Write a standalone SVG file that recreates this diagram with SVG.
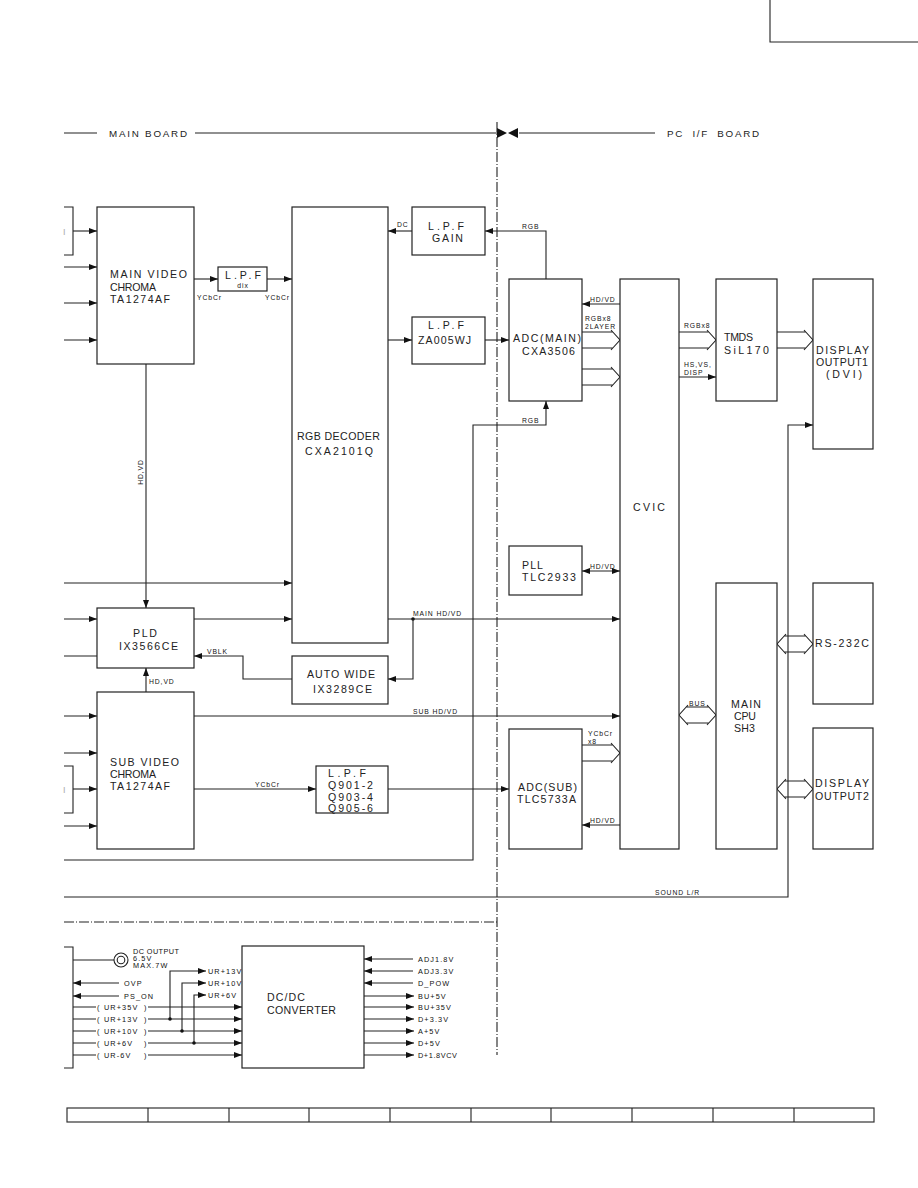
<svg xmlns="http://www.w3.org/2000/svg" width="918" height="1188" viewBox="0 0 918 1188">
<defs>
<marker id="a" markerUnits="userSpaceOnUse" markerWidth="8" markerHeight="6" refX="8" refY="3" orient="auto"><path d="M0,0 L8,3 L0,6 z" fill="#111"/></marker>
<marker id="b" markerUnits="userSpaceOnUse" markerWidth="8" markerHeight="6" refX="8" refY="3" orient="auto-start-reverse"><path d="M0,0 L8,3 L0,6 z" fill="#111"/></marker>
<style>
.bx{fill:#fff;stroke:#222;stroke-width:1.2}
.ln{fill:none;stroke:#222;stroke-width:1.1}
.ar{fill:none;stroke:#222;stroke-width:1.1;marker-end:url(#a)}
.da{fill:none;stroke:#222;stroke-width:1.1;marker-start:url(#b);marker-end:url(#b)}
.dash{fill:none;stroke:#222;stroke-width:1.1;stroke-dasharray:10 2 1 2}
.t{font-family:"Liberation Sans",Arial,sans-serif;font-size:10.6px;fill:#222}
.m{font-family:"Liberation Sans",Arial,sans-serif;font-size:9.8px;fill:#222}
.s{font-family:"Liberation Sans",Arial,sans-serif;font-size:6.8px;letter-spacing:0.9px;fill:#111}
.p{font-family:"Liberation Sans",Arial,sans-serif;font-size:7.3px;letter-spacing:1.1px;fill:#111}
.c{text-anchor:middle}
</style>
</defs>
<rect width="918" height="1188" fill="#fff"/>

<g id="frame">
<path class="ln" d="M770,0 V42 H918"/>
<path class="ln" d="M64,133 H97 M195,133 H497 M519,133 H655"/>
<path d="M497,128 L507,133 L497,138 z M518,128 L508,133 L518,138 z" fill="#111"/>
<text class="m" x="109" y="137" textLength="78" lengthAdjust="spacing">MAIN BOARD</text>
<text class="m" x="667" y="137" textLength="92" lengthAdjust="spacing" word-spacing="4">PC I/F BOARD</text>
<path class="dash" d="M497,122 V1055"/>
<path class="dash" d="M64,922 H497"/>
</g>

<g id="table">
<rect x="67" y="1108" width="807" height="14" fill="none" stroke="#333" stroke-width="1.2"/>
<path class="ln" d="M148,1108 V1122 M229,1108 V1122 M309,1108 V1122 M390,1108 V1122 M471,1108 V1122 M551,1108 V1122 M632,1108 V1122 M713,1108 V1122 M794,1108 V1122"/>
</g>

<g id="connectors">
<path class="ln" d="M64,207 H73 V255 H64"/>
<text x="63" y="235" font-family="Liberation Sans,Arial,sans-serif" font-size="9" fill="#aaa">I</text>
<path class="ar" d="M73,231 H97"/>
<path class="ar" d="M64,267 H97"/>
<path class="ar" d="M64,303 H97"/>
<path class="ar" d="M64,340 H97"/>
<path class="ar" d="M194,279 H218"/>
<path class="ar" d="M267,279 H292"/>
<path class="ar" d="M146,364 V608"/>
<path class="ar" d="M412,231 H388"/>
<path class="ar" d="M546,279 V231 H485"/>
<path class="ar" d="M388,340 H412"/>
<path class="ar" d="M485,340 H509"/>
<path class="ar" d="M64,860 H473 V425 H546 V401"/>
<path class="ar" d="M620,304 H582"/>
<path class="ln" d="M582,332 H613 M611,330 L620,340 L611,350 M582,348 H613"/>
<path class="ln" d="M582,369 H613 M611,367 L620,377 L611,387 M582,385 H613"/>
<path class="ln" d="M679,332 H709 M707,330 L716,340 L707,350 M679,348 H709"/>
<path class="ar" d="M679,377 H716"/>
<path class="ln" d="M777,332 H806 M804,330 L813,340 L804,350 M777,348 H806"/>
<path class="ar" d="M64,897 H788 V425 H813"/>
<path class="da" d="M582,571 H620"/>
<path class="ar" d="M64,583 H292"/>
<path class="ar" d="M64,619 H97"/>
<path class="ar" d="M194,619 H292"/>
<path class="ln" d="M64,656 H97"/>
<path class="ar" d="M388,619 H620"/>
<circle cx="413" cy="619" r="1.8" fill="#111"/>
<path class="ar" d="M413,619 V679 H388"/>
<path class="ar" d="M292,679 H243 V656 H194"/>
<path class="ar" d="M146,692 V668"/>
<path class="ar" d="M64,716 H97"/>
<path class="ar" d="M194,716 H620"/>
<path class="ar" d="M64,753 H97"/>
<path class="ln" d="M64,766 H73 V813 H64"/>
<text x="63" y="793" font-family="Liberation Sans,Arial,sans-serif" font-size="9" fill="#aaa">I</text>
<path class="ar" d="M73,789 H97"/>
<path class="ar" d="M64,826 H97"/>
<path class="ar" d="M194,789 H316"/>
<path class="ar" d="M388,789 H509"/>
<path class="ln" d="M582,745 H613 M611,743 L620,753 L611,763 M582,761 H613"/>
<path class="ar" d="M620,825 H582"/>
<path class="ln" d="M686,707 H709 M688,705 L679,715 L688,725 M707,705 L716,715 L707,725 M686,723 H709"/>
<path class="ln" d="M784,636 H806 M786,634 L777,644 L786,654 M804,634 L813,644 L804,654 M784,652 H806"/>
<path class="ln" d="M784,781 H806 M786,779 L777,789 L786,799 M804,779 L813,789 L804,799 M784,797 H806"/>

<text class="s" x="197" y="300">YCbCr</text>
<text class="s" x="265" y="300">YCbCr</text>
<text class="s" x="397" y="227">DC</text>
<text class="s" x="522" y="229">RGB</text>
<text class="s" x="522" y="423">RGB</text>
<text class="s" x="590" y="302">HD/VD</text>
<text class="s" x="585" y="321">RGBx8</text>
<text class="s" x="585" y="329">2LAYER</text>
<text class="s" x="684" y="328">RGBx8</text>
<text class="s" x="684" y="367">HS,VS,</text>
<text class="s" x="684" y="375">DISP</text>
<text class="s" x="590" y="569">HD/VD</text>
<text class="s" x="413" y="616">MAIN HD/VD</text>
<text class="s" x="413" y="714">SUB HD/VD</text>
<text class="s" x="207" y="654">VBLK</text>
<text class="s" x="149" y="684">HD,VD</text>
<text class="s" x="255" y="787">YCbCr</text>
<text class="s" x="588" y="736">YCbCr</text>
<text class="s" x="588" y="744">x8</text>
<text class="s" x="590" y="823">HD/VD</text>
<text class="s" x="689" y="706">BUS</text>
<text class="s" x="655" y="895">SOUND L/R</text>
<text class="s" transform="translate(143,472) rotate(-90)" text-anchor="middle">HD,VD</text>
</g>

<g id="main-video">
<rect class="bx" x="97" y="207" width="97" height="157"/>
<text class="t" x="110" y="278" textLength="77" lengthAdjust="spacing">MAIN VIDEO</text>
<text class="t" x="110" y="291" textLength="46" lengthAdjust="spacing">CHROMA</text>
<text class="t" x="110" y="303" textLength="60" lengthAdjust="spacing">TA1274AF</text>
</g>
<g id="lpf-dix">
<rect class="bx" x="218" y="267" width="49" height="24"/>
<text class="t" x="225" y="279" textLength="36" lengthAdjust="spacing">L.P.F</text>
<text class="s c" x="243" y="288">dix</text>
</g>
<g id="rgb-decoder">
<rect class="bx" x="292" y="207" width="96" height="436"/>
<text class="t" x="297" y="440" textLength="83" lengthAdjust="spacing">RGB DECODER</text>
<text class="t" x="305" y="455" textLength="68" lengthAdjust="spacing">CXA2101Q</text>
</g>
<g id="lpf-gain">
<rect class="bx" x="412" y="207" width="73" height="48"/>
<text class="t" x="428" y="230" textLength="36" lengthAdjust="spacing">L.P.F</text>
<text class="t" x="432" y="242" textLength="31" lengthAdjust="spacing">GAIN</text>
</g>
<g id="lpf-za005wj">
<rect class="bx" x="412" y="317" width="73" height="47"/>
<text class="t" x="428" y="329" textLength="36" lengthAdjust="spacing">L.P.F</text>
<text class="t" x="418" y="344" textLength="53" lengthAdjust="spacing">ZA005WJ</text>
</g>
<g id="adc-main">
<rect class="bx" x="509" y="279" width="73" height="122"/>
<text class="t" x="513" y="342" textLength="68" lengthAdjust="spacing">ADC(MAIN)</text>
<text class="t" x="522" y="355" textLength="53" lengthAdjust="spacing">CXA3506</text>
</g>
<g id="cvic">
<rect class="bx" x="620" y="279" width="59" height="570"/>
<text class="t" x="633" y="511" textLength="32" lengthAdjust="spacing">CVIC</text>
</g>
<g id="tmds">
<rect class="bx" x="716" y="279" width="61" height="122"/>
<text class="t" x="724" y="341" textLength="29" lengthAdjust="spacing">TMDS</text>
<text class="t" x="724" y="354" textLength="45" lengthAdjust="spacing">SiL170</text>
</g>
<g id="display-output1">
<rect class="bx" x="813" y="279" width="60" height="170"/>
<text class="t" x="816" y="354" textLength="53" lengthAdjust="spacing">DISPLAY</text>
<text class="t" x="816" y="366" textLength="52" lengthAdjust="spacing">OUTPUT1</text>
<text class="t" x="826" y="378" textLength="36" lengthAdjust="spacing">(DVI)</text>
</g>
<g id="pll">
<rect class="bx" x="509" y="546" width="73" height="49"/>
<text class="t" x="522" y="569" textLength="21" lengthAdjust="spacing">PLL</text>
<text class="t" x="522" y="581" textLength="54" lengthAdjust="spacing">TLC2933</text>
</g>
<g id="adc-sub">
<rect class="bx" x="509" y="729" width="73" height="120"/>
<text class="t" x="518" y="791" textLength="59" lengthAdjust="spacing">ADC(SUB)</text>
<text class="t" x="517" y="803" textLength="59" lengthAdjust="spacing">TLC5733A</text>
</g>
<g id="main-cpu">
<rect class="bx" x="716" y="583" width="61" height="266"/>
<text class="t" x="731" y="708" textLength="30" lengthAdjust="spacing">MAIN</text>
<text class="t" x="734" y="720" textLength="22" lengthAdjust="spacing">CPU</text>
<text class="t" x="734" y="732" textLength="21" lengthAdjust="spacing">SH3</text>
</g>
<g id="rs232c">
<rect class="bx" x="813" y="583" width="60" height="121"/>
<text class="t" x="815" y="647" textLength="54" lengthAdjust="spacing">RS-232C</text>
</g>
<g id="display-output2">
<rect class="bx" x="813" y="728" width="60" height="121"/>
<text class="t" x="815" y="787" textLength="54" lengthAdjust="spacing">DISPLAY</text>
<text class="t" x="815" y="800" textLength="54" lengthAdjust="spacing">OUTPUT2</text>
</g>
<g id="pld">
<rect class="bx" x="97" y="608" width="97" height="60"/>
<text class="t" x="133" y="637" textLength="24" lengthAdjust="spacing">PLD</text>
<text class="t" x="119" y="650" textLength="59" lengthAdjust="spacing">IX3566CE</text>
</g>
<g id="auto-wide">
<rect class="bx" x="292" y="656" width="96" height="48"/>
<text class="t" x="307" y="678" textLength="68" lengthAdjust="spacing">AUTO WIDE</text>
<text class="t" x="313" y="693" textLength="59" lengthAdjust="spacing">IX3289CE</text>
</g>
<g id="sub-video">
<rect class="bx" x="97" y="692" width="97" height="157"/>
<text class="t" x="110" y="766" textLength="69" lengthAdjust="spacing">SUB VIDEO</text>
<text class="t" x="110" y="778" textLength="46" lengthAdjust="spacing">CHROMA</text>
<text class="t" x="110" y="790" textLength="60" lengthAdjust="spacing">TA1274AF</text>
</g>
<g id="lpf-q901">
<rect class="bx" x="316" y="766" width="72" height="47"/>
<text class="t" x="328" y="777" textLength="38" lengthAdjust="spacing">L.P.F</text>
<text class="t" x="328" y="789" textLength="45" lengthAdjust="spacing">Q901-2</text>
<text class="t" x="328" y="801" textLength="45" lengthAdjust="spacing">Q903-4</text>
<text class="t" x="328" y="812" textLength="45" lengthAdjust="spacing">Q905-6</text>
</g>

<g id="power-connectors">
<path class="ln" d="M64,947 H73 V1068 H64"/>
<path class="ln" d="M73,960 H114"/>
<circle cx="121" cy="960" r="7" fill="none" stroke="#222" stroke-width="1.1"/>
<circle cx="121" cy="960" r="3.8" fill="none" stroke="#222" stroke-width="1.1"/>
<text class="p" x="133" y="954" textLength="47" lengthAdjust="spacing">DC OUTPUT</text>
<text class="p" x="133" y="961">6.5V</text>
<text class="p" x="133" y="968">MAX.7W</text>
<path class="ar" d="M119,983 H73"/>
<path class="ar" d="M119,996 H73"/>
<text class="p" x="124" y="986">OVP</text>
<text class="p" x="124" y="999">PS_ON</text>
<path class="ln" d="M73,1007 H96 M73,1019 H96 M73,1031 H96 M73,1043 H96 M73,1055 H96"/>
<g class="p">
<text x="97" y="1010">(</text><text x="104" y="1010">UR+35V</text><text x="144" y="1010">)</text>
<text x="97" y="1022">(</text><text x="104" y="1022">UR+13V</text><text x="144" y="1022">)</text>
<text x="97" y="1034">(</text><text x="104" y="1034">UR+10V</text><text x="144" y="1034">)</text>
<text x="97" y="1046">(</text><text x="104" y="1046">UR+6V</text><text x="144" y="1046">)</text>
<text x="97" y="1058">(</text><text x="104" y="1058">UR-6V</text><text x="144" y="1058">)</text>
</g>
<path class="ar" d="M148,1007 H242"/>
<path class="ar" d="M148,1019 H242"/>
<path class="ar" d="M148,1031 H242"/>
<path class="ar" d="M148,1043 H242"/>
<path class="ar" d="M148,1055 H242"/>
<path class="ar" d="M170,1019 V971 H206"/>
<path class="ar" d="M182,1031 V983 H206"/>
<path class="ar" d="M194,1043 V995 H206"/>
<circle cx="170" cy="1019" r="1.8" fill="#111"/>
<circle cx="182" cy="1031" r="1.8" fill="#111"/>
<circle cx="194" cy="1043" r="1.8" fill="#111"/>
<text class="p" x="208" y="974">UR+13V</text>
<text class="p" x="208" y="986">UR+10V</text>
<text class="p" x="208" y="998">UR+6V</text>
<path class="ar" d="M413,959 H364"/>
<path class="ar" d="M413,971 H364"/>
<path class="ar" d="M413,983 H364"/>
<path class="ar" d="M364,996 H414"/>
<path class="ar" d="M364,1007 H414"/>
<path class="ar" d="M364,1019 H414"/>
<path class="ar" d="M364,1031 H414"/>
<path class="ar" d="M364,1043 H414"/>
<path class="ar" d="M364,1055 H414"/>
<text class="p" x="418" y="962">ADJ1.8V</text>
<text class="p" x="418" y="974">ADJ3.3V</text>
<text class="p" x="418" y="986">D_POW</text>
<text class="p" x="418" y="999">BU+5V</text>
<text class="p" x="418" y="1010">BU+35V</text>
<text class="p" x="418" y="1022">D+3.3V</text>
<text class="p" x="418" y="1034">A+5V</text>
<text class="p" x="418" y="1046">D+5V</text>
<text class="p" x="418" y="1058" textLength="40" lengthAdjust="spacing">D+1.8VCV</text>
</g>
<g id="dcdc-converter">
<rect class="bx" x="242" y="946" width="122" height="122"/>
<text class="t" x="267" y="1001" textLength="38" lengthAdjust="spacing">DC/DC</text>
<text class="t" x="267" y="1014" textLength="69" lengthAdjust="spacing">CONVERTER</text>
</g>
</svg>
